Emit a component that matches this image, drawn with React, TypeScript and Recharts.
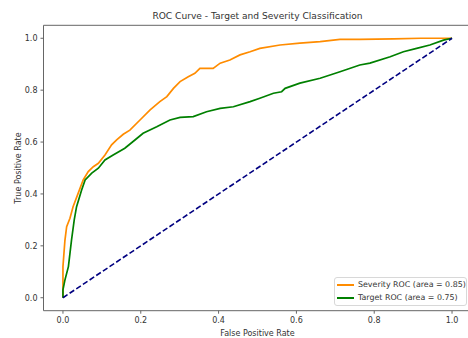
import React from 'react';
import {
  LineChart,
  Line,
  XAxis,
  YAxis,
  ReferenceArea
} from 'recharts';

// ROC points, read as (false positive rate, true positive rate)
const severityFpr = [0, 0, 0.005, 0.0095, 0.018, 0.026, 0.039, 0.052, 0.065, 0.078, 0.091, 0.108, 0.125, 0.138, 0.155, 0.172, 0.198, 0.224, 0.249, 0.267, 0.284, 0.301, 0.322, 0.339, 0.352, 0.386, 0.404, 0.429, 0.455, 0.481, 0.506, 0.558, 0.609, 0.661, 0.712, 0.763, 0.85, 0.92, 1.0];
const severityTpr = [0, 0.12, 0.22, 0.274, 0.306, 0.351, 0.402, 0.454, 0.486, 0.505, 0.518, 0.55, 0.589, 0.608, 0.63, 0.646, 0.685, 0.724, 0.756, 0.775, 0.807, 0.833, 0.852, 0.865, 0.884, 0.884, 0.904, 0.916, 0.936, 0.948, 0.961, 0.974, 0.981, 0.987, 0.996, 0.996, 0.998, 1.0, 1.0];

const targetFpr = [0, 0, 0.005, 0.014, 0.018, 0.022, 0.029, 0.035, 0.048, 0.057, 0.074, 0.091, 0.108, 0.129, 0.159, 0.185, 0.206, 0.241, 0.275, 0.301, 0.335, 0.369, 0.404, 0.438, 0.481, 0.506, 0.541, 0.562, 0.571, 0.609, 0.661, 0.712, 0.763, 0.789, 0.841, 0.875, 0.909, 0.943, 0.978, 1.0];
const targetTpr = [0, 0.03, 0.068, 0.12, 0.171, 0.222, 0.3, 0.351, 0.415, 0.454, 0.48, 0.499, 0.531, 0.55, 0.576, 0.608, 0.634, 0.659, 0.685, 0.695, 0.698, 0.717, 0.73, 0.736, 0.756, 0.769, 0.788, 0.794, 0.807, 0.827, 0.846, 0.871, 0.897, 0.904, 0.929, 0.948, 0.961, 0.974, 0.993, 1.0];

const chanceFpr = [0, 1];
const chanceTpr = [0, 1];

const ticks = [0, 0.2, 0.4, 0.6, 0.8, 1.0];

const seriesNames = ['Severity ROC (area = 0.85)', 'Target ROC (area = 0.75)'];
const seriesColors = ['#ff8c00', '#008000'];

const zip = (xs: number[], ys: number[]) => xs.map((x, i) => ({ x, y: ys[i] }));

const severityData = zip(severityFpr, severityTpr);
const targetData = zip(targetFpr, targetTpr);
const chanceData = zip(chanceFpr, chanceTpr);

const FONT = '"DejaVu Sans", sans-serif';
const TEXT = '#333';
const SPINE = '#666';
const TICK_FONT = 8;
const LEGEND_FONT = 7.9;

// legend box sits in the lower right corner of the axes
const RocLegend = () => (
  <div
    style={{
      position: 'absolute',
      left: 334,
      top: 277,
      width: 133,
      boxSizing: 'border-box',
      border: '1px solid #d8d8d8',
      borderRadius: 3,
      background: 'rgba(255,255,255,0.85)',
      padding: '1px 0 1px 2px',
      fontFamily: FONT,
      fontSize: LEGEND_FONT,
      color: TEXT,
      lineHeight: '12.5px',
      whiteSpace: 'nowrap'
    }}
  >
    {seriesNames.map((name, i) => (
      <div key={name} style={{ display: 'flex', alignItems: 'center' }}>
        <span
          style={{
            display: 'inline-block',
            width: 17,
            height: 2,
            background: seriesColors[i],
            marginRight: 4
          }}
        />
        <span>{name}</span>
      </div>
    ))}
  </div>
);

const App: React.FC = () => {
  return (
    <div
      style={{
        position: 'absolute',
        left: 0,
        top: 0,
        width: 468,
        height: 338,
        overflow: 'hidden',
        background: '#fff'
      }}
    >
      <LineChart
        width={474}
        height={338}
        margin={{ top: 25.3, right: 2.5, left: 0, bottom: 0 }}
      >
        <XAxis
          type="number"
          dataKey="x"
          domain={[-0.05, 1.05]}
          ticks={ticks}
          tickFormatter={(v: number) => v.toFixed(1)}
          allowDataOverflow
          height={27.3}
          axisLine={false}
          tickSize={3}
          tickMargin={4}
          tickLine={{ stroke: SPINE }}
          tick={{ fill: TEXT, fontSize: TICK_FONT, fontFamily: FONT }}
        />
        <YAxis
          type="number"
          dataKey="y"
          domain={[-0.05, 1.05]}
          ticks={ticks}
          tickFormatter={(v: number) => v.toFixed(1)}
          allowDataOverflow
          width={43.5}
          axisLine={false}
          tickSize={3}
          tickMargin={3}
          tickLine={{ stroke: SPINE }}
          tick={{ fill: TEXT, fontSize: TICK_FONT, fontFamily: FONT }}
        />

        <ReferenceArea
          x1={-0.05}
          x2={1.05}
          y1={-0.05}
          y2={1.05}
          fill="none"
          stroke={SPINE}
          strokeWidth={1}
        />

        <Line
          data={severityData}
          dataKey="y"
          type="linear"
          stroke={seriesColors[0]}
          strokeWidth={1.7}
          dot={false}
          isAnimationActive={false}
        />
        <Line
          data={targetData}
          dataKey="y"
          type="linear"
          stroke={seriesColors[1]}
          strokeWidth={1.7}
          dot={false}
          isAnimationActive={false}
        />
        <Line
          data={chanceData}
          dataKey="y"
          type="linear"
          stroke="#000080"
          strokeWidth={1.6}
          strokeDasharray="5.5 2.5"
          dot={false}
          isAnimationActive={false}
        />

        <text x={257.5} y={19} textAnchor="middle" fontSize={9.1} fontFamily={FONT} fill={TEXT}>
          ROC Curve - Target and Severity Classification
        </text>
        <text x={257.5} y={336} textAnchor="middle" fontSize={TICK_FONT} fontFamily={FONT} fill={TEXT}>
          False Positive Rate
        </text>
        <text
          x={21}
          y={168}
          textAnchor="middle"
          fontSize={TICK_FONT}
          fontFamily={FONT}
          fill={TEXT}
          transform="rotate(-90 21 168)"
        >
          True Positive Rate
        </text>
      </LineChart>
      <RocLegend />
    </div>
  );
};

export default App;
